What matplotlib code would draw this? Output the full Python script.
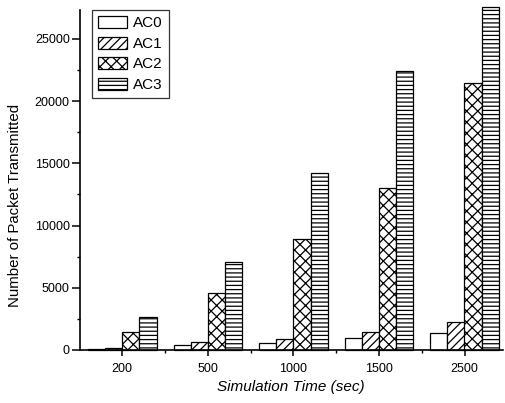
import matplotlib
matplotlib.use("Agg")
import matplotlib.pyplot as plt
import numpy as np
from matplotlib.ticker import MultipleLocator, FixedLocator

plt.rcParams['font.family'] = ['Liberation Sans', 'DejaVu Sans']
plt.rcParams['hatch.linewidth'] = 0.9

categories = ['200', '500', '1000', '1500', '2500']
series_names = ['AC0', 'AC1', 'AC2', 'AC3']
ac0 = [120, 400, 560, 940, 1340]
ac1 = [150, 620, 880, 1430, 2280]
ac2 = [1480, 4570, 8900, 13060, 21500]
ac3 = [2690, 7040, 14200, 22450, 27600]
values = [ac0, ac1, ac2, ac3]
hatches = ['', '////', 'xxx', '----']

fig = plt.figure(figsize=(5.05, 4.03), dpi=100)
ax = fig.add_axes([79.5/505, 53/403, (503-79.5)/505, (350-10)/403])

x = np.arange(len(categories))
w = 0.2
for k, (name, vals, h) in enumerate(zip(series_names, values, hatches)):
    ax.bar(x + (k - 1.5) * w, vals,
           width=w, facecolor='white', edgecolor='black', linewidth=0.9,
           hatch=h, label=name, clip_on=False)

ax.set_xlim(-0.5, 4.45)
ax.set_ylim(0, 27330)
ax.spines['top'].set_visible(False)
ax.spines['right'].set_visible(False)
ax.spines['left'].set_linewidth(1.2)
ax.spines['bottom'].set_linewidth(1.2)

ax.set_xticks(x)
ax.set_xticklabels(categories)
ax.xaxis.set_minor_locator(FixedLocator([0.5, 1.5, 2.5, 3.5]))
ax.yaxis.set_major_locator(MultipleLocator(5000))
ax.yaxis.set_minor_locator(MultipleLocator(2500))
ax.tick_params(which='major', direction='out', width=1.1, labelsize=9)
ax.tick_params(which='minor', direction='out', length=2.5, width=1.0)
ax.tick_params(axis='x', which='major', length=4.3, pad=5)
ax.tick_params(axis='y', which='major', length=5.5, pad=1.5)

ax.set_xlabel('Simulation Time (sec)', fontsize=11, fontstyle='italic', labelpad=4)
ax.set_ylabel('Number of Packet Transmitted', fontsize=10.8)
ax.yaxis.set_label_coords(-0.135, 0.424)

leg = ax.legend(loc='upper left', bbox_to_anchor=(0.03, 1.0), borderaxespad=0,
                fancybox=False, frameon=True, edgecolor='black', fontsize=11,
                handlelength=1.9, handleheight=0.85, labelspacing=0.4,
                handletextpad=0.4, borderpad=0.4)
leg.get_frame().set_linewidth(0.9)

fig.savefig('out.png', dpi=100)
